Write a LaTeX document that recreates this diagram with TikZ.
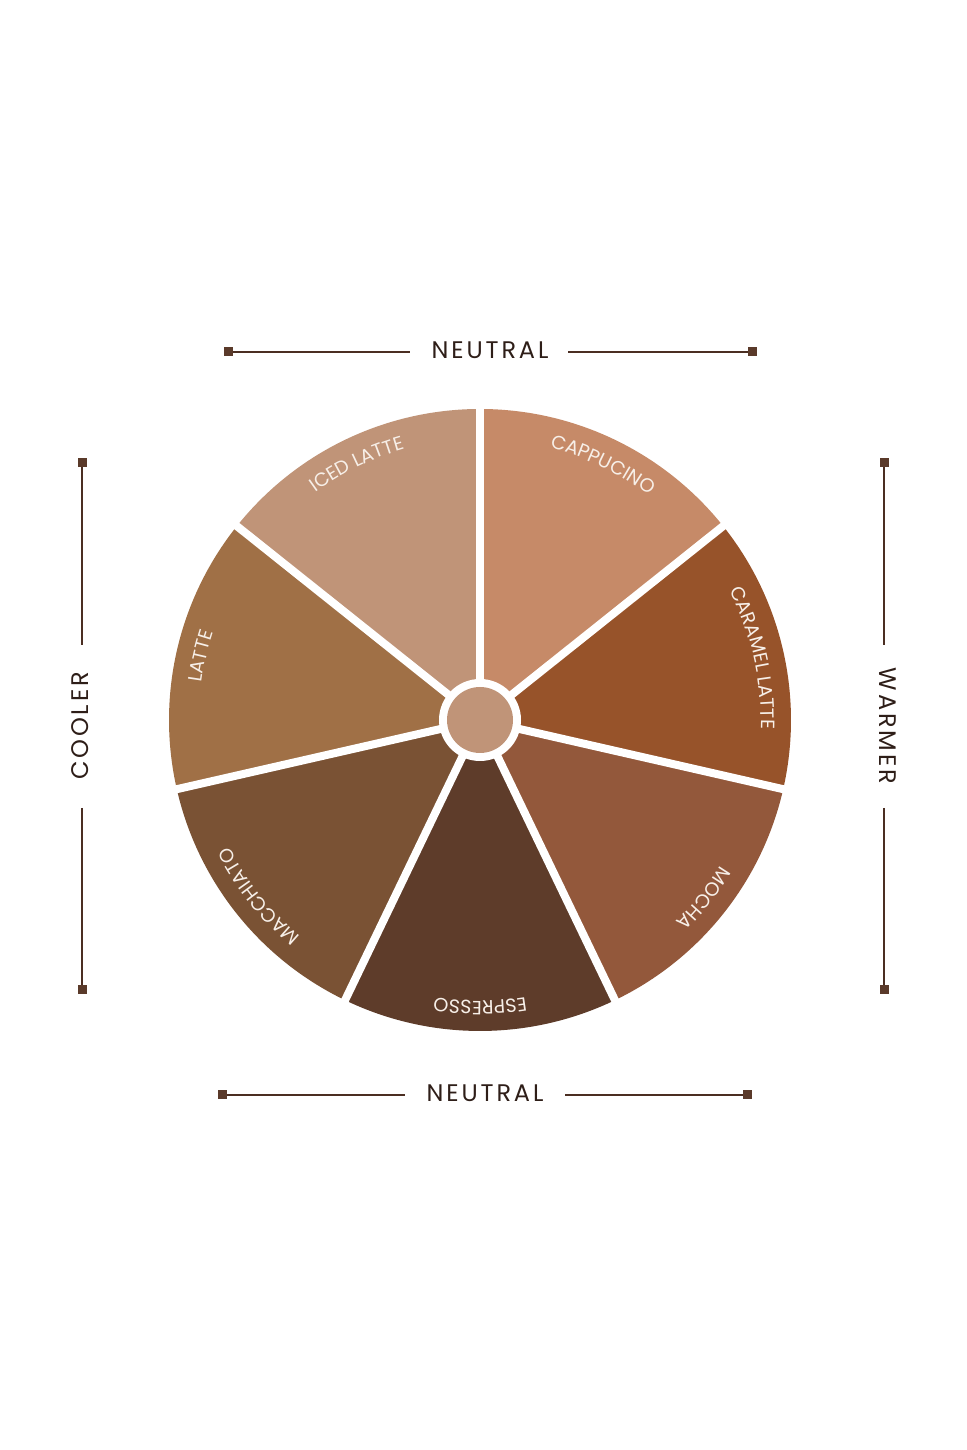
\documentclass[tikz,border=0pt]{standalone}
\usepackage{fontspec}
\setmainfont{Poppins}
\usetikzlibrary{decorations.text}
\definecolor{cIced}{HTML}{C09478}
\definecolor{cCapp}{HTML}{C68A68}
\definecolor{cCara}{HTML}{97532A}
\definecolor{cMoch}{HTML}{93583B}
\definecolor{cEspr}{HTML}{5E3C2A}
\definecolor{cMacc}{HTML}{7A5234}
\definecolor{cLatt}{HTML}{A07046}
\definecolor{cCent}{HTML}{C09478}
\definecolor{cLine}{HTML}{4B2E22}
\definecolor{cMark}{HTML}{5A3A2A}
\definecolor{cText}{HTML}{2E1E18}
\definecolor{cLab}{HTML}{F7EFE8}
\newcommand\arclabel[2]{%
  \path[decorate,decoration={text along path,text align=center,text color=cLab,
    text={|\fontsize{9.6}{11}\selectfont|#2}}]
    (c) ++(#1+40:281) arc[start angle=#1+40,end angle=#1-40,radius=281];}
\newcommand\cofwedge[2]{%
  \fill[#2] (c) -- ++(#1:311) arc[start angle=#1,end angle=#1-51.4286,radius=311] -- cycle;}
\begin{document}
\begin{tikzpicture}[x=0.5pt,y=0.5pt,
  guide/.style={draw=cLine,line width=1pt},
  marker/.style={fill=cMark},
  side/.style={font=\fontsize{12}{14}\selectfont\addfontfeatures{LetterSpace=12},text=cText,inner sep=0pt}]
\useasboundingbox (0,0) rectangle (967,1450);
\coordinate (c) at (480,730);
% wedges
\cofwedge{90}{cCapp}
\cofwedge{38.5714}{cCara}
\cofwedge{-12.8571}{cMoch}
\cofwedge{-64.2857}{cEspr}
\cofwedge{-115.7143}{cMacc}
\cofwedge{-167.1429}{cLatt}
\cofwedge{141.4286}{cIced}
% spokes
\foreach \k in {0,...,6}
  \draw[white,line width=4pt] (c) -- ++(90-\k*51.4286:320);
\fill[white] (c) circle[radius=41];
\fill[cCent] (c) circle[radius=33];
% labels
\arclabel{64.2857}{CAPPUCINO}
\arclabel{12.8571}{CARAMEL LATTE}
\arclabel{-38.5714}{MOCHA}
\arclabel{-90}{ESPRESSO}
\arclabel{-141.4286}{MACCHIATO}
\arclabel{167.1429}{LATTE}
\arclabel{115.7143}{ICED LATTE}
% top neutral
\node[side] (ntop) at (490,1100) {NEUTRAL};
\coordinate (t1) at (228,1098); \coordinate (t2) at (410,1098);
\coordinate (t3) at (568,1098); \coordinate (t4) at (752,1098);
\draw[guide] (t1) -- (t2); \draw[guide] (t3) -- (t4);
\fill[marker] (t1) +(-4.5,-4.5) rectangle +(4.5,4.5);
\fill[marker] (t4) +(-4.5,-4.5) rectangle +(4.5,4.5);
% bottom neutral
\node[side] (nbot) at (485,357) {NEUTRAL};
\coordinate (b1) at (222,355); \coordinate (b2) at (405,355);
\coordinate (b3) at (565,355); \coordinate (b4) at (747,355);
\draw[guide] (b1) -- (b2); \draw[guide] (b3) -- (b4);
\fill[marker] (b1) +(-4.5,-4.5) rectangle +(4.5,4.5);
\fill[marker] (b4) +(-4.5,-4.5) rectangle +(4.5,4.5);
% cooler
\node[side,rotate=90] (cool) at (80,724) {COOLER};
\coordinate (l1) at (82,987); \coordinate (l2) at (82,805);
\coordinate (l3) at (82,642); \coordinate (l4) at (82,460);
\draw[guide] (l1) -- (l2); \draw[guide] (l3) -- (l4);
\fill[marker] (l1) +(-4.5,-4.5) rectangle +(4.5,4.5);
\fill[marker] (l4) +(-4.5,-4.5) rectangle +(4.5,4.5);
% warmer
\node[side,rotate=-90] (warm) at (888,724) {WARMER};
\coordinate (r1) at (884,987); \coordinate (r2) at (884,805);
\coordinate (r3) at (884,642); \coordinate (r4) at (884,460);
\draw[guide] (r1) -- (r2); \draw[guide] (r3) -- (r4);
\fill[marker] (r1) +(-4.5,-4.5) rectangle +(4.5,4.5);
\fill[marker] (r4) +(-4.5,-4.5) rectangle +(4.5,4.5);
\end{tikzpicture}
\end{document}
